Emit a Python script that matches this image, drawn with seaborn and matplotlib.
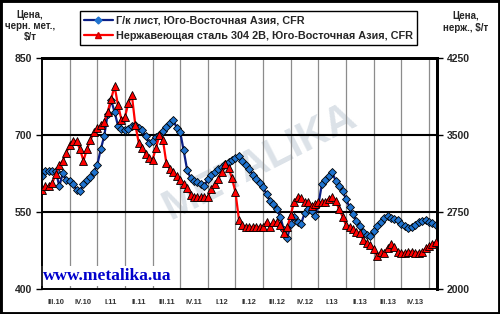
import matplotlib
matplotlib.use("Agg")
import matplotlib.pyplot as plt
import seaborn as sns
import pandas as pd
import numpy as np
from matplotlib.lines import Line2D
from matplotlib.patches import Rectangle

# ---------------- data ----------------
quarter_labels = ["III.10", "IV.10", "I.11", "II.11", "III.11", "IV.11", "I.12",
                  "II.12", "III.12", "IV.12", "I.13", "II.13", "III.13", "IV.13"]
points_per_quarter = 8

# Hot-rolled coil, SE Asia CFR, $/t (left axis)
hr_coil = [621, 630, 630, 630, 630, 600, 625, 613, 610, 604, 593, 590, 604, 613, 618, 628,
           642, 672, 698, 740, 768, 745, 718, 711, 709, 712, 718, 719, 714, 709, 698, 685,
           689, 696, 700, 707, 715, 723, 729, 714, 705, 670, 632, 616, 610, 608, 604, 600,
           615, 623, 628, 633, 638, 643, 647, 651, 655, 659, 650, 642, 633, 623, 614, 606,
           598, 585, 571, 566, 555, 540, 515, 500, 526, 540, 531, 527, 548, 556, 552, 542,
           565, 604, 613, 621, 628, 610, 600, 591, 575, 559, 547, 532, 523, 512, 505, 503,
           513, 523, 530, 539, 543, 539, 537, 534, 527, 522, 519, 520, 525, 530, 533, 534,
           531, 528, 524]

# Stainless 304 2B, SE Asia CFR, $/t (right axis)
stainless = [2960, 3000, 3000, 3035, 3120, 3205, 3250, 3325, 3400, 3445, 3440, 3360, 3250, 3360,
             3450, 3525, 3565, 3595, 3630, 3725, 3850, 3975, 3790, 3650, 3675, 3810, 3890, 3600,
             3425, 3375, 3315, 3275, 3260, 3375, 3500, 3450, 3225, 3165, 3135, 3100, 3060, 3025,
             2985, 2920, 2900, 2895, 2895, 2895, 2895, 2970, 3020, 3070, 3135, 3215, 3175, 3080,
             2940, 2675, 2620, 2605, 2605, 2605, 2605, 2605, 2605, 2655, 2605, 2650, 2655, 2620,
             2550, 2600, 2725, 2850, 2895, 2885, 2845, 2845, 2810, 2825, 2845, 2845, 2845, 2880,
             2895, 2860, 2775, 2705, 2620, 2605, 2580, 2555, 2545, 2480, 2450, 2430, 2390, 2320,
             2360, 2355, 2400, 2435, 2410, 2360, 2350, 2355, 2365, 2365, 2355, 2355, 2360, 2395,
             2420, 2435, 2460]

left_ticks = [400, 550, 700, 850]
right_ticks = [2000, 2750, 3500, 4250]
label_hr = "Г/к лист, Юго-Восточная Азия, CFR"
label_ss = "Нержавеющая сталь 304 2В, Юго-Восточная Азия, CFR"

# ---------------- style ----------------
sns.set_theme(style="white")
plt.rcParams['font.family'] = ['Liberation Sans', 'DejaVu Sans']
plt.rcParams['font.weight'] = 'bold'

period = np.arange(len(hr_coil)) / points_per_quarter
df = pd.DataFrame({"period": period, "hr": hr_coil, "ss": stainless})

fig = plt.figure(figsize=(5, 3.14), dpi=100)
fig.patch.set_facecolor("white")
ax = fig.add_axes([42 / 500, 1 - 289 / 314, (437 - 42) / 500, (289 - 58) / 314])
ax.set_facecolor("white")
ax2 = ax.twinx()

# watermark logo
ax.text(0.55, 0.55, "METALIKA", transform=ax.transAxes, rotation=27, fontsize=30,
        color="#dce2e8", ha="center", va="center", zorder=0.5, fontweight="bold")

blue_line = "#0b1f86"
blue_face = "#1f73cf"
sns.lineplot(data=df, x="period", y="hr", ax=ax, color=blue_line, linewidth=1.6,
             marker="D", markersize=4.4, markerfacecolor=blue_face,
             markeredgecolor="black", markeredgewidth=0.6, legend=False, zorder=3)
sns.lineplot(data=df, x="period", y="ss", ax=ax2, color="#ff0000", linewidth=1.6,
             marker="^", markersize=5.5, markerfacecolor="#ff0000",
             markeredgecolor="black", markeredgewidth=0.6, legend=False, zorder=3)

ax.set_xlim(0, 14.29)
ax.set_ylim(400, 850)
ax2.set_ylim(2000, 4250)

ax.set_yticks(left_ticks)
ax2.set_yticks(right_ticks)
ax.set_xticks(np.arange(len(quarter_labels)) + 0.5)
ax.set_xticklabels(quarter_labels)
ax.set_xticks(np.arange(1, len(quarter_labels) + 1), minor=True)

ax.grid(False)
ax2.grid(False)
ax.grid(which="minor", axis="x", color="#8c8c8c", linewidth=0.9)
for v in left_ticks[1:3]:
    ax.axhline(v, color="black", linewidth=1.5, zorder=1)

ax.set_xlabel("")
ax.set_ylabel("")
ax2.set_ylabel("")

ax.tick_params(axis="x", which="both", length=0, labelsize=5.5, pad=7, labelcolor="#333333")
ax.tick_params(axis="y", length=4, width=1, direction="out", labelsize=7.5, pad=3,
               color="black", left=True)
ax2.tick_params(axis="y", length=4, width=1, direction="out", labelsize=7.5, pad=3,
                color="black", right=True)
for a in (ax, ax2):
    for s in a.spines.values():
        s.set_color("black")
    a.spines["top"].set_linewidth(2)
    a.spines["right"].set_linewidth(2)
    a.spines["left"].set_linewidth(1.2)
    a.spines["bottom"].set_linewidth(1.2)

ax.text(0.003, 0.02, "www.metalika.ua", transform=ax.transAxes, fontsize=12.5,
        family=["Liberation Serif"], fontweight="bold", color="#0000cc",
        ha="left", va="bottom", zorder=5,
        bbox=dict(facecolor="white", edgecolor="none", pad=1.5))

# axis titles
fig.text(30 / 500, 1 - 26 / 314, "Цена,\nчерн. мет.,\n$/т", ha="center", va="center",
         fontsize=7, fontweight="bold", linespacing=1.15)
fig.text(466 / 500, 1 - 22 / 314, "Цена,\nнерж., $/т", ha="center", va="center",
         fontsize=7, fontweight="bold", linespacing=1.15)

# legend
handles = [
    Line2D([], [], color=blue_line, linewidth=1.6, marker="D", markersize=3.5,
           markerfacecolor=blue_face, markeredgecolor=blue_face),
    Line2D([], [], color="#ff0000", linewidth=1.6, marker="^", markersize=5,
           markerfacecolor="#ff0000", markeredgecolor="#cc0000"),
]
leg = fig.legend(handles, [label_hr, label_ss], loc="upper left",
                 bbox_to_anchor=(80 / 500, 1 - 11 / 314), fontsize=7.8, frameon=True,
                 fancybox=False, edgecolor="black", framealpha=1, handlelength=2.6,
                 handletextpad=0.3, borderpad=0.4, labelspacing=0.5, borderaxespad=0)
leg.get_frame().set_linewidth(1.0)

fig.patches.append(Rectangle((0, 0), 1, 1, transform=fig.transFigure, fill=False,
                             edgecolor="black", linewidth=3.5))

fig.savefig("out.png", dpi=100)
